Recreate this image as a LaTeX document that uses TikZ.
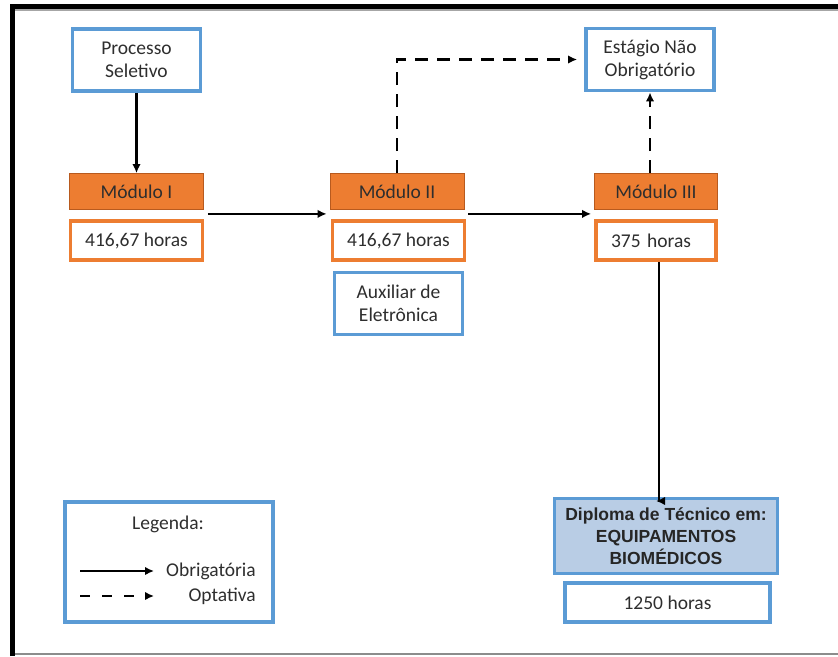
\documentclass[tikz,border=0pt]{standalone}
\usepackage{fontspec}
\setmainfont{Carlito}
\newfontfamily\arialfont{Liberation Sans}
\usetikzlibrary{arrows.meta, positioning}

\definecolor{laranja}{HTML}{ED7D31}
\definecolor{laranjaesc}{HTML}{B85A1E}
\definecolor{azul}{HTML}{5B9BD5}
\definecolor{azulclaro}{HTML}{B9CDE5}
\definecolor{texto}{HTML}{2E2E2E}

\begin{document}
\begin{tikzpicture}[x=1pt, y=-1pt, >={Latex[length=9pt,width=8.5pt]},
    font=\fontsize{19.5}{23}\selectfont, text=texto,
    modulo/.style={draw=laranjaesc, line width=0.8pt, fill=laranja, minimum width=134pt, minimum height=36pt, inner sep=0pt},
    horas/.style={draw=laranja, line width=3.8pt, fill=white, minimum width=132pt, minimum height=39pt, inner sep=0pt},
    etapa/.style={draw=azul, line width=3.8pt, fill=white, minimum width=128pt, minimum height=62pt, align=center, inner sep=0pt},
    ligacao/.style={->, line width=2.2pt},
    opcional/.style={->, line width=2.2pt, dash pattern=on 13pt off 9pt}]

    \useasboundingbox (0,0) rectangle (838,656);

    %moldura
    \draw[line width=5pt, black] (12.5,656) -- (12.5,6.5) -- (838,6.5);
    \draw[line width=1.5pt, black!35] (15,10) -- (838,10);
    \draw[line width=1.5pt, black!45] (15,654) -- (838,654);

    %define os modulos
    \node[modulo] (m1) at (136.5,191.5) {Módulo I};
    \node[modulo] (m2) [right of=m1, node distance=260.5pt] {Módulo II};
    \node[modulo, minimum width=123pt] (m3) [right of=m2, node distance=259pt] {Módulo III};

    %define as cargas horarias
    \node[horas] (h1) [below of=m1, node distance=49pt] {416,67 horas};
    \node[horas] (h2) [below of=m2, node distance=49pt, xshift=1.5pt] {416,67 horas};
    \node[horas, minimum width=120pt, text width=90pt, align=left] (h3) [below of=m3, node distance=49pt] {375 horas};

    %define as etapas
    \node[etapa] (proc) [above of=m1, node distance=131.5pt] {Processo\\Seletivo};
    \node[etapa] (aux) [below of=h2, node distance=63pt] {Auxiliar de\\Eletrônica};
    \node[etapa] (est) [above of=m3, node distance=132pt, xshift=-6pt] {Estágio Não\\Obrigatório};

    %define o diploma
    \node[draw=azul, line width=3pt, fill=azulclaro, minimum width=223pt, minimum height=75pt, align=center, inner sep=0pt,
          font=\arialfont\bfseries\fontsize{17.5}{22}\selectfont, text=black!85]
          (dip) [below of=h3, node distance=295.5pt, xshift=10pt] {Diploma de Técnico em:\\EQUIPAMENTOS\\BIOMÉDICOS};
    \node[draw=azul, line width=3.8pt, fill=white, minimum width=205pt, minimum height=39pt, inner sep=0pt]
          (h4) [below of=dip, node distance=66.5pt, xshift=1.5pt] {1250 horas};

    %define as ligacoes
    \draw[ligacao] (proc.south) -- (m1.north);
    \draw[ligacao] ([shift={(4pt,-4pt)}]m1.south east) -- ([shift={(-3pt,-4pt)}]m2.south west);
    \draw[ligacao] ([shift={(4pt,-4pt)}]m2.south east) -- ([shift={(-3pt,-4pt)}]m3.south west);
    \draw[ligacao] (h3.south) ++(3pt,0) |- ([yshift=-4pt]dip.north -| h3.south) ;
    \draw[opcional] (m2.north) |- ([xshift=-7pt]est.west);
    \draw[opcional] (m3.north -| est) -- (est.south);

    %legenda
    \node[draw=azul, line width=3.8pt, minimum width=208pt, minimum height=120pt] (leg) at (169,562) {};
    \node (legtit) at (168,524) {Legenda:};
    \node[anchor=east, inner sep=0pt] (obrig) at (256,571) {Obrigatória};
    \node[anchor=east, inner sep=0pt] (opt) at (256,596) {Optativa};
    \coordinate (ob1) at (80,571);
    \coordinate (ob2) at (154,571);
    \coordinate (op1) at (80,596);
    \coordinate (op2) at (154,596);
    \draw[ligacao] (ob1) -- (ob2);
    \draw[opcional, dash pattern=on 10pt off 12pt] (op1) -- (op2);
\end{tikzpicture}
\end{document}
